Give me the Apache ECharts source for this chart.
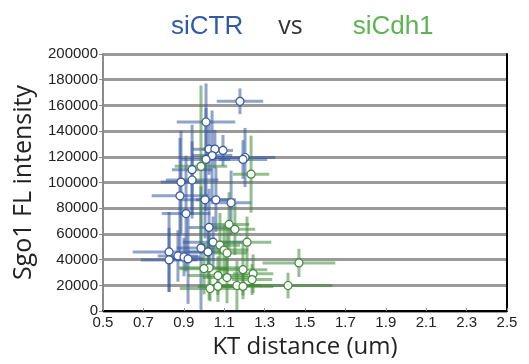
<!DOCTYPE html>
<html>
<head>
<meta charset="utf-8">
<script src="https://cdn.jsdelivr.net/npm/echarts@6/dist/echarts.min.js"></script>
<style>
  html, body { margin: 0; padding: 0; background: #fff; }
  #chart { width: 529px; height: 364px; }
</style>
</head>
<body>
<div id="chart"></div>
<script>
// siCTR (blue) - x in um, y in intensity (thousands)
const ctrX    = [1.178, 1.010, 1.025, 1.054, 1.094, 1.040, 1.010, 1.203, 1.193, 0.941, 0.941, 0.886, 0.881,
                 1.005, 1.059, 1.134, 0.911, 1.025, 1.045, 0.985, 1.020, 0.827, 0.827, 0.871, 0.901, 0.921]
const ctrY    = [163.2, 147.1, 126, 126, 125, 121, 118, 119.5, 118, 110, 102, 100.4, 89.7,
                 86.6, 86.6, 84.3, 75.9, 65.1, 53.6, 49, 46, 46, 39.8, 42.9, 42.1, 40.6]
const ctrXErr = [0.115, 0.145, 0.08, 0.06, 0.05, 0.10, 0.12, 0.15, 0.12, 0.10, 0.13, 0.10, 0.14,
                 0.12, 0.10, 0.10, 0.12, 0.10, 0.15, 0.12, 0.10, 0.18, 0.14, 0.10, 0.08, 0.08]
const ctrYErr = [10, 30, 20, 15, 12, 35, 40, 23, 15, 35, 30, 40, 45,
                 30, 25, 25, 45, 30, 20, 48, 20, 31, 25, 20, 15, 35]

// siCdh1 (green)
const cdhX    = [0.985, 1.233, 1.124, 1.153, 1.213, 1.079, 1.099, 1.114, 1.470, 1.025, 1.000,
                 1.193, 1.243, 1.069, 1.114, 1.238, 1.030, 1.069, 1.163, 1.193, 1.416]
const cdhY    = [112.6, 106.5, 67.4, 63.6, 53.6, 51.3, 47.5, 45.2, 37.5, 33.7, 33,
                 32.2, 29.1, 27.6, 26.1, 24.5, 17.6, 19.2, 19.9, 19.2, 19.9]
const cdhXErr = [0.13, 0.09, 0.10, 0.10, 0.12, 0.10, 0.12, 0.10, 0.18, 0.15, 0.12,
                 0.12, 0.10, 0.15, 0.12, 0.10, 0.15, 0.10, 0.12, 0.15, 0.22]
const cdhYErr = [63, 30, 25, 20, 20, 25, 20, 20, 11, 25, 20,
                 20, 15, 15, 20, 12, 10, 12, 19, 10, 10]

const xTicks = [0.5, 0.7, 0.9, 1.1, 1.3, 1.5, 1.7, 1.9, 2.1, 2.3, 2.5]

const BLUE = '#34579f'
const GREEN = '#3f8a37'

// 组装数据 [x, y, xErr, yErr]
const build = (xs, ys, xe, ye) => xs.map((x, i) => [x, ys[i] * 1000, xe[i], ye[i] * 1000])
const ctrData = build(ctrX, ctrY, ctrXErr, ctrYErr)
const cdhData = build(cdhX, cdhY, cdhXErr, cdhYErr)

const errorBars = (color) => (params, api) => {
  const x = api.value(0), y = api.value(1)
  const xe = api.value(2), ye = api.value(3)
  const l = api.coord([x - xe, y]), r = api.coord([x + xe, y])
  const t = api.coord([x, y + ye]), b = api.coord([x, Math.max(0, y - ye)])
  const style = { stroke: color, lineWidth: 3, opacity: 0.55 }
  return {
    type: 'group',
    children: [
      { type: 'line', shape: { x1: l[0], y1: l[1], x2: r[0], y2: r[1] }, style },
      { type: 'line', shape: { x1: t[0], y1: t[1], x2: b[0], y2: b[1] }, style }
    ]
  }
}

const chart = echarts.init(document.getElementById('chart'))
const labelFont = { color: '#222', fontSize: 15, fontFamily: 'Liberation Sans' }

chart.setOption({
  animation: false,
  title: {
    text: '{a|siCTR}       {b|vs}          {c|siCdh1}',
    left: 166,
    top: 9,
    textStyle: {
      fontWeight: 'normal',
      rich: {
        a: { color: '#2f5ba8', fontSize: 26, fontFamily: 'Liberation Sans' },
        b: { color: '#333', fontSize: 25, fontFamily: 'Open Sans' },
        c: { color: '#5db351', fontSize: 26, fontFamily: 'Liberation Sans' }
      }
    }
  },
  grid: { left: 103, right: 22, top: 54, bottom: 49 },
  xAxis: [
    {
      type: 'value',
      min: 0.5, max: 2.5, interval: 0.2,
      name: 'KT distance (um)',
      nameLocation: 'middle',
      nameGap: 20,
      nameTextStyle: { color: '#222', fontSize: 24, fontFamily: 'Open Sans' },
      axisLine: { lineStyle: { color: '#8a8a8a', width: 2 } },
      axisTick: { show: true, inside: true, length: 3, lineStyle: { color: '#8a8a8a' } },
      axisLabel: { ...labelFont, margin: 4, formatter: v => xTicks.find(t => Math.abs(t - v) < 1e-6)?.toFixed(1) ?? '' },
      splitLine: { show: false }
    },
    {
      type: 'value', position: 'top', min: 0.5, max: 2.5,
      axisLine: { show: true, lineStyle: { color: '#000', width: 2 } },
      axisTick: { show: false }, axisLabel: { show: false }, splitLine: { show: false }
    }
  ],
  yAxis: [
    {
      type: 'value',
      min: 0, max: 200000, interval: 20000,
      name: 'Sgo1 FL intensity',
      nameLocation: 'middle',
      nameGap: 67,
      nameTextStyle: { color: '#222', fontSize: 25, fontFamily: 'Open Sans' },
      axisLine: { show: true, lineStyle: { color: '#8a8a8a', width: 2 } },
      axisTick: { show: true, length: 4, lineStyle: { color: '#8a8a8a' } },
      axisLabel: { ...labelFont, margin: 5, formatter: v => String(v) },
      splitLine: { lineStyle: { color: '#9a9a9a', width: 3 } }
    },
    {
      type: 'value', position: 'right', min: 0, max: 200000,
      axisLine: { show: true, lineStyle: { color: '#000', width: 2 } },
      axisTick: { show: false }, axisLabel: { show: false }, splitLine: { show: false }
    }
  ],
  series: [
    { name: 'siCTR err', type: 'custom', data: ctrData, renderItem: errorBars(BLUE), z: 2 },
    { name: 'siCdh1 err', type: 'custom', data: cdhData, renderItem: errorBars(GREEN), z: 2 },
    {
      name: 'siCTR', type: 'scatter', data: ctrData, symbolSize: 8, z: 3,
      itemStyle: { color: '#fff', borderColor: BLUE, borderWidth: 1.2, opacity: 1 }
    },
    {
      name: 'siCdh1', type: 'scatter', data: cdhData, symbolSize: 8, z: 3,
      itemStyle: { color: '#fff', borderColor: GREEN, borderWidth: 1.2, opacity: 1 }
    }
  ]
})
</script>
</body>
</html>
